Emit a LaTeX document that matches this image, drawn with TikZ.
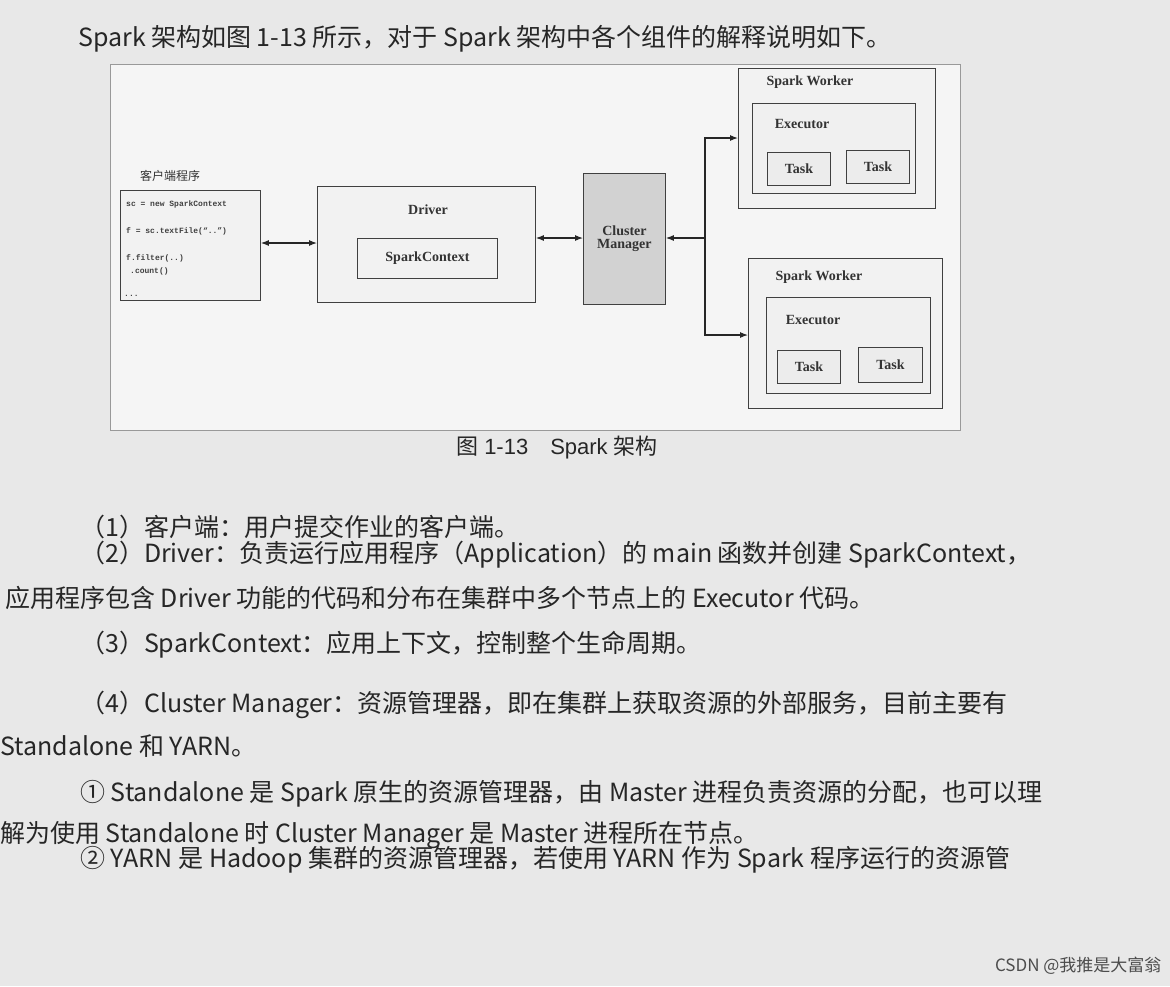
\documentclass[tikz,border=0pt]{standalone}
\usepackage{fontspec}
\usetikzlibrary{arrows.meta}
\setmainfont{Liberation Serif}
\setmonofont{Liberation Mono}
\newfontfamily\cjk{Noto Sans CJK SC}
\newfontfamily\capfont{Liberation Sans}
\begin{document}
\begin{tikzpicture}[x=1pt,y=-1pt,
  bx/.style={draw=black!75,line width=0.9pt},
  lbl/.style={font=\fontsize{14}{16}\selectfont\bfseries,text=black!80},
  para/.style={anchor=base west,font=\cjk\fontsize{25}{28}\selectfont,text=black!85,inner sep=0},
  arr/.style={-{Latex[length=8pt,width=6pt]},line width=1.1pt,draw=black!85},
  darr/.style={{Latex[length=8pt,width=6pt]}-{Latex[length=8pt,width=6pt]},line width=1.1pt,draw=black!85}]
\useasboundingbox[fill=gray!18] (0,0) rectangle (1170,986);
% page text
\node[para] (t0) at (78,46) {Spark 架构如图 1-13 所示，对于 Spark 架构中各个组件的解释说明如下。};
% diagram frame
\draw[draw=black!40,fill=gray!8] (110,64) rectangle (960,430);
% client
\node[font=\cjk\fontsize{12}{14}\selectfont,text=black!80] (cl) at (170,176) {客户端程序};
\node[bx,fill=gray!10,minimum width=140,minimum height=110,anchor=north west] (client) at (120,190) {};
\node[anchor=west,font=\ttfamily\bfseries\fontsize{8}{9}\selectfont,text=black!75,inner sep=0] (c1) at (126,204) {sc = new SparkContext};
\node[anchor=west,font=\ttfamily\bfseries\fontsize{8}{9}\selectfont,text=black!75,inner sep=0] (c2) at (126,231) {f = sc.textFile(“..”)};
\node[anchor=west,font=\ttfamily\bfseries\fontsize{8}{9}\selectfont,text=black!75,inner sep=0] (c3) at (126,258) {f.filter(..)};
\node[anchor=west,font=\ttfamily\bfseries\fontsize{8}{9}\selectfont,text=black!75,inner sep=0] (c4) at (130,271) {.count()};
\node[anchor=west,font=\ttfamily\bfseries\fontsize{8}{9}\selectfont,text=black!75,inner sep=0] (c5) at (124,296) {...};
% driver
\node[bx,fill=gray!10,minimum width=218,minimum height=116,anchor=north west] (driver) at (317,186) {};
\node[lbl] (dl) at (428,210) {Driver};
\node[bx,fill=gray!10,minimum width=140,minimum height=40,anchor=north west,lbl] (sc) at (357,238) {SparkContext};
% cluster manager
\node[bx,fill=gray!35,minimum width=82,minimum height=131,anchor=north west,align=center,lbl] (cm) at (583,173) {Cluster\\[-3pt]Manager};
% workers
\node[bx,fill=gray!10,minimum width=197,minimum height=140,anchor=north west] (w1) at (738,68) {};
\node[lbl] (w1l) at (810,82) {Spark Worker};
\node[bx,fill=gray!12,minimum width=163,minimum height=90,anchor=north west] (e1) at (752,103) {};
\node[lbl] (e1l) at (802,124) {Executor};
\node[bx,fill=gray!15,minimum width=63,minimum height=33,anchor=north west,lbl] (t11) at (767,152) {Task};
\node[bx,fill=gray!15,minimum width=63,minimum height=33,anchor=north west,lbl] (t12) at (846,150) {Task};
\node[bx,fill=gray!10,minimum width=194,minimum height=150,anchor=north west] (w2) at (748,258) {};
\node[lbl] (w2l) at (819,277) {Spark Worker};
\node[bx,fill=gray!12,minimum width=164,minimum height=96,anchor=north west] (e2) at (766,297) {};
\node[lbl] (e2l) at (813,320) {Executor};
\node[bx,fill=gray!15,minimum width=63,minimum height=33,anchor=north west,lbl] (t21) at (777,350) {Task};
\node[bx,fill=gray!15,minimum width=64,minimum height=35,anchor=north west,lbl] (t22) at (858,347) {Task};
% connectors
\draw[darr] (client.east|-0,243) -- (driver.west|-0,243);
\draw[darr] (driver.east|-0,238) -- (cm.west|-0,238);
\coordinate (j) at (705,238);
\draw[arr] (j) -- (cm.east|-j);
\draw[arr] (j) |- (w1.west|-0,138);
\draw[arr] (j) |- (w2.west|-0,335);
% caption
\node[font=\fontsize{22}{26}\selectfont,text=black!85] (cap) at (557,448) {{\cjk 图} {\capfont 1-13\quad Spark} {\cjk 架构}};
% paragraphs
\node[para] (p1) at (80,536) {（1）客户端：用户提交作业的客户端。};
\node[para] (p2) at (80,562) {（2）Driver：负责运行应用程序（Application）的 main 函数并创建 SparkContext，};
\node[para] (p3) at (5,607) {应用程序包含 Driver 功能的代码和分布在集群中多个节点上的 Executor 代码。};
\node[para] (p4) at (80,652) {（3）SparkContext：应用上下文，控制整个生命周期。};
\node[para] (p5) at (80,712) {（4）Cluster Manager：资源管理器，即在集群上获取资源的外部服务，目前主要有};
\node[para] (p6) at (0,755) {Standalone 和 YARN。};
\node[para] (p7) at (80,801) {① Standalone 是 Spark 原生的资源管理器，由 Master 进程负责资源的分配，也可以理};
\node[para] (p8) at (0,842) {解为使用 Standalone 时 Cluster Manager 是 Master 进程所在节点。};
\node[para] (p9) at (80,867) {② YARN 是 Hadoop 集群的资源管理器，若使用 YARN 作为 Spark 程序运行的资源管};
\node[anchor=east,font=\cjk\fontsize{17}{20}\selectfont,text=black!70] (wm) at (1165,966) {CSDN @我推是大富翁};
\end{tikzpicture}
\end{document}
